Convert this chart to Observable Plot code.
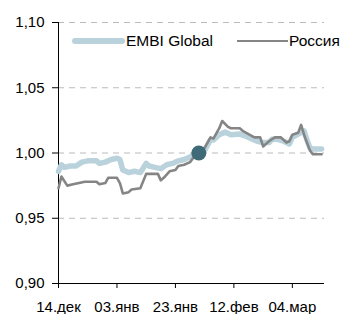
<!DOCTYPE html>
<html><head><meta charset="utf-8">
<script src="https://cdn.jsdelivr.net/npm/d3@7"></script>
<script src="https://cdn.jsdelivr.net/npm/@observablehq/plot@0.6"></script>
<style>
body{margin:0;background:#fff;font-family:"Liberation Sans",Arial,sans-serif;}
#wrap{position:relative;width:343px;height:314px;overflow:hidden;}
.leg{position:absolute;top:32px;font-size:15.5px;line-height:18px;color:#000;display:flex;align-items:center;white-space:nowrap;}
.sw{display:inline-block;margin-right:1px;border-radius:3px;}
</style></head><body>
<div id="wrap"></div>
<script>
const embiDates = ["2014-12-14","2014-12-15","2014-12-16","2014-12-18","2014-12-20","2014-12-22","2014-12-24","2014-12-27","2014-12-28","2014-12-30","2015-01-01","2015-01-03","2015-01-04","2015-01-05","2015-01-07","2015-01-09","2015-01-11","2015-01-13","2015-01-14","2015-01-16","2015-01-18","2015-01-20","2015-01-22","2015-01-24","2015-01-26","2015-01-28","2015-01-30","2015-01-31","2015-02-02","2015-02-04","2015-02-05","2015-02-07","2015-02-09","2015-02-11","2015-02-14","2015-02-16","2015-02-18","2015-02-20","2015-02-22","2015-02-24","2015-02-25","2015-02-27","2015-03-01","2015-03-03","2015-03-04","2015-03-06","2015-03-08","2015-03-09","2015-03-10","2015-03-11","2015-03-14"];
const embiValues = [0.986,0.991,0.989,0.990,0.990,0.993,0.994,0.994,0.992,0.993,0.995,0.996,0.995,0.987,0.985,0.986,0.985,0.992,0.990,0.989,0.988,0.991,0.992,0.994,0.995,0.997,0.999,1.000,1.002,1.010,1.010,1.014,1.016,1.014,1.0145,1.013,1.011,1.009,1.008,1.008,1.0105,1.0105,1.009,1.007,1.012,1.0145,1.017,1.010,1.004,1.003,1.003];
const rusDates = ["2014-12-14","2014-12-15","2014-12-17","2014-12-19","2014-12-21","2014-12-23","2014-12-27","2014-12-28","2014-12-30","2014-12-31","2015-01-03","2015-01-04","2015-01-05","2015-01-07","2015-01-08","2015-01-11","2015-01-13","2015-01-17","2015-01-18","2015-01-19","2015-01-21","2015-01-23","2015-01-24","2015-01-26","2015-01-28","2015-01-29","2015-01-31","2015-02-02","2015-02-04","2015-02-05","2015-02-07","2015-02-08","2015-02-10","2015-02-11","2015-02-14","2015-02-15","2015-02-17","2015-02-19","2015-02-21","2015-02-22","2015-02-24","2015-02-26","2015-02-28","2015-03-02","2015-03-03","2015-03-04","2015-03-06","2015-03-07","2015-03-08","2015-03-10","2015-03-11","2015-03-14"];
const rusValues = [0.973,0.982,0.975,0.976,0.977,0.978,0.978,0.976,0.977,0.981,0.981,0.977,0.969,0.970,0.972,0.973,0.984,0.984,0.979,0.981,0.986,0.987,0.990,0.991,0.993,0.996,1.000,1.004,1.012,1.011,1.019,1.0245,1.020,1.019,1.019,1.017,1.0145,1.012,1.012,1.005,1.009,1.012,1.012,1.008,1.009,1.014,1.0155,1.0215,1.014,1.002,0.999,0.999];
const baseDate = ["2015-01-31"];
const baseValue = [1.00];
const xTicks = ["2014-12-14","2015-01-03","2015-01-23","2015-02-12","2015-03-04"];
const xTickLabels = ["14.дек","03.янв","23.янв","12.фев","04.мар"];
const yTicks = [0.90,0.95,1.00,1.05,1.10];
const seriesNames = ["EMBI Global","Россия"];

const P = d3.utcParse("%Y-%m-%d");
const embi = embiDates.map((d,i)=>({date:P(d), v:embiValues[i]}));
const rus = rusDates.map((d,i)=>({date:P(d), v:rusValues[i]}));
const base = baseDate.map((d,i)=>({date:P(d), v:baseValue[i]}));
const xt = xTicks.map(P);
const fmtY = d => d.toFixed(2).replace(".", ",");

const chart = Plot.plot({
  width:343, height:314,
  marginLeft:58, marginRight:19, marginTop:22, marginBottom:31,
  style:{fontFamily:"Liberation Sans, Arial, sans-serif", fontSize:"15px", color:"#000", background:"#fff", overflow:"visible"},
  x:{type:"utc", domain:[P("2014-12-14"), P("2015-03-15")]},
  y:{domain:[0.9,1.1]},
  marks:[
    Plot.ruleY(yTicks.filter(t=>t>0.9), {stroke:"#bbb", strokeDasharray:"6,5", strokeWidth:1}),
    Plot.axisY({ticks:yTicks, tickFormat:fmtY, tickSize:6, tickPadding:8, stroke:"#000", fontSize:15, label:null}),
    Plot.axisX({ticks:xt, tickFormat:(d,i)=>xTickLabels[i], tickSize:5, tickPadding:13, stroke:"#000", fontSize:15, label:null}),
    Plot.ruleX([P("2014-12-14")], {stroke:"#000"}),
    Plot.ruleY([0.9], {stroke:"#000"}),
    Plot.line(embi, {x:"date", y:"v", stroke:"#b9d2db", strokeWidth:5.5, strokeLinejoin:"round"}),
    Plot.line(rus, {x:"date", y:"v", stroke:"#858585", strokeWidth:2.6, strokeLinejoin:"round"}),
    Plot.dot(base, {x:"date", y:"v", r:7.5, fill:"#3e6b77", stroke:"none"})
  ]
});
const wrap = document.getElementById("wrap");
wrap.appendChild(chart);
const l1 = document.createElement("div");
l1.className="leg"; l1.style.left="72px";
l1.innerHTML = `<span class="sw" style="width:53px;height:5.5px;background:#b9d2db"></span><span>${seriesNames[0]}</span>`;
const l2 = document.createElement("div");
l2.className="leg"; l2.style.left="237px";
l2.innerHTML = `<span class="sw" style="width:51px;height:2.6px;background:#858585;border-radius:0"></span><span>${seriesNames[1]}</span>`;
wrap.appendChild(l1); wrap.appendChild(l2);
</script>
</body></html>
